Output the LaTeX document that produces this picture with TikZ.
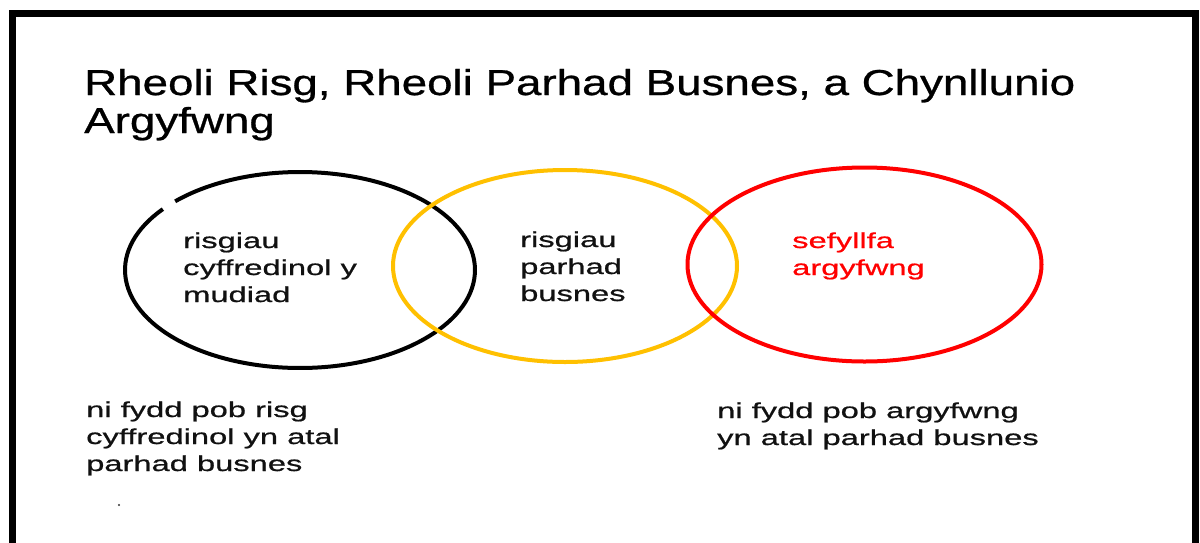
\documentclass[tikz,border=0pt]{standalone}
\usepackage{fontspec}
\setmainfont{Liberation Sans}
\newfontfamily\titlefam{Liberation Sans}[FakeStretch=1.27, FakeBold=0.8]
\newfontfamily\bodyfam{Liberation Sans}[FakeStretch=1.52, FakeBold=0.8]
\usetikzlibrary{shapes.geometric}
\definecolor{ringgold}{HTML}{FFC000}
\definecolor{ringred}{HTML}{FF0000}
\definecolor{inktext}{HTML}{111111}
\tikzset{
  ring/.style={draw, ellipse, line width=4pt, inner sep=0pt, fill=none},
  title/.style={anchor=base west, inner sep=0pt, align=left, text=black,
    font=\titlefam\fontsize{36}{38}\selectfont},
  body/.style={anchor=base west, inner sep=0pt, align=left, text=inktext,
    font=\bodyfam\fontsize{21.5}{27}\selectfont},
}
\begin{document}
\begin{tikzpicture}[x=1pt,y=-1pt]
\useasboundingbox[fill=white] (0,0) rectangle (1200,542);
% frame (no bottom edge)
\draw[line width=7pt, line join=miter] (12,560) -- (12,13) -- (1195,13) -- (1195,560);
% title (base anchor = last line baseline)
\node[title] (ttl) at (84,133) {Rheoli Risg, Rheoli Parhad Busnes, a Chynllunio\\Argyfwng};
% circles
\draw[line width=4pt] (300,270) ++(224.5:175 and 98) arc[start angle=224.5, end angle=578.4, x radius=175, y radius=98];
\node[ring, draw=ringgold, minimum width=344pt, minimum height=192pt] (cy) at (565,266) {};
\node[ring, draw=ringred, minimum width=354pt, minimum height=194pt] (cr) at (864.5,264.5) {};
% circle texts
\node[body] (t1) at (183,302) {risgiau\\cyffredinol y\\mudiad};
\node[body] (t2) at (520,301) {risgiau\\parhad\\busnes};
\node[body, text=ringred] (t3) at (792,275) {sefyllfa\\argyfwng};
% notes
\node[body] (n1) at (86,471) {ni fydd pob risg\\cyffredinol yn atal\\parhad busnes};
\node[body] (n2) at (717,445) {ni fydd pob argyfwng\\yn atal parhad busnes};
\fill[black!80] (119,505) circle[radius=1.2];
\end{tikzpicture}
\end{document}
